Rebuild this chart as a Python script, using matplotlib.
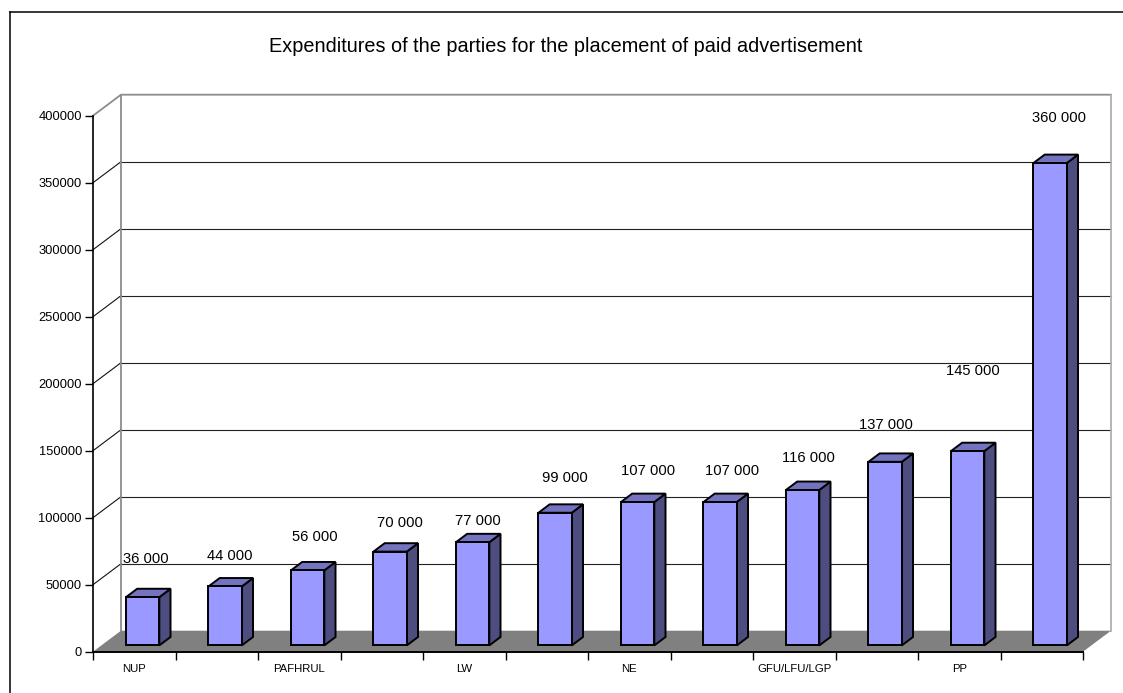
import numpy as np
import matplotlib
matplotlib.use("Agg")
import matplotlib.pyplot as plt
from matplotlib.patches import Polygon
from matplotlib.lines import Line2D

plt.rcParams['font.family'] = ['Liberation Sans', 'DejaVu Sans']

# ---- data -------------------------------------------------------------
categories = ["NUP", "", "PAFHRUL", "", "LW", "", "NE", "", "GFU/LFU/LGP", "", "PP", ""]
spending = [36000, 44000, 56000, 70000, 77000, 99000,
            107000, 107000, 116000, 137000, 145000, 360000]
y_ticks = [0, 50000, 100000, 150000, 200000, 250000, 300000, 350000, 400000]
title = "Expenditures of the parties for the placement of paid advertisement"

# value-label nudges in pixels, relative to the top of each bar's front face
label_dx = [3, 5, 7, 10, 5, 10, 10, 12, 6, 1, 5, 9]
label_dy = [38, 30, 33, 29, 21, 35, 31, 31, 32, 37, 80, 45]

# ---- layout -----------------------------------------------------------
W, H = 1123, 693
fig = plt.figure(figsize=(W / 100, H / 100), dpi=100)

ax_l, ax_b, ax_w, ax_h = 93, H - 651.7, 990, 536
ax = fig.add_axes([ax_l / W, ax_b / H, ax_w / W, ax_h / H])
n = len(spending)
ymax = y_ticks[-1]
ax.set_xlim(0, n)
ax.set_ylim(0, ymax)
ax.patch.set_visible(False)

# 3-D depth of the plot box, expressed in data units
depth_px = (28, 21)
dx = depth_px[0] / (ax_w / n)
dy = depth_px[1] / (ax_h / ymax)


def poly(pts, **kw):
    p = Polygon(pts, closed=True, clip_on=False, **kw)
    ax.add_patch(p)
    return p


# back wall gridlines and the side-wall diagonals
for v in y_ticks[1:-1]:
    ax.add_line(Line2D([dx, n + dx], [v + dy, v + dy], color='#222222',
                       lw=0.8, clip_on=False, zorder=1))
    ax.add_line(Line2D([0, dx], [v, v + dy], color='#111111',
                       lw=0.8, clip_on=False, zorder=1))

wall_col = '#8c8c8c'
ax.add_line(Line2D([0, dx, n + dx], [ymax, ymax + dy, ymax + dy],
                   color=wall_col, lw=1.3, clip_on=False, zorder=1))
ax.add_line(Line2D([dx, dx], [dy, ymax + dy], color=wall_col,
                   lw=1.3, clip_on=False, zorder=1))
ax.add_line(Line2D([n + dx, n + dx], [dy, ymax + dy], color='#b0b0b0',
                   lw=1.3, clip_on=False, zorder=1))

# floor
poly([(0, 0), (n, 0), (n + dx, dy), (dx, dy)], facecolor='#808080',
     edgecolor='none', zorder=2)

# bars: front face, right side and top
bw = 0.404
d0, d1 = 0.3, 0.4
front = '#9999ff'
side = '#4d4d80'
top = '#7373c0'
x0 = np.arange(n) + 0.5 - bw / 2 + d0 * dx
base = d0 * dy
ax.bar(x0, spending, width=bw, bottom=base, align='edge', color=front,
       edgecolor='black', lw=1.4, zorder=5, clip_on=False)
for i, v in enumerate(spending):
    xl, xr = x0[i], x0[i] + bw
    yb, yt = base, base + v
    poly([(xr, yb), (xr, yt), (xr + d1 * dx, yt + d1 * dy),
          (xr + d1 * dx, yb + d1 * dy)], facecolor=side, edgecolor='black',
         lw=1.4, zorder=4, joinstyle='miter')
    poly([(xl, yt), (xr, yt), (xr + d1 * dx, yt + d1 * dy),
          (xl + d1 * dx, yt + d1 * dy)], facecolor=top, edgecolor='black',
         lw=1.4, zorder=4, joinstyle='miter')
    ax.annotate(f"{v:,}".replace(",", " "), xy=(xl + bw / 2, yt),
                xytext=(label_dx[i], label_dy[i]), textcoords='offset pixels',
                ha='center', va='center', fontsize=10.6, zorder=6,
                annotation_clip=False)

# axes
for s in ('top', 'right'):
    ax.spines[s].set_visible(False)
ax.spines['left'].set_linewidth(1.2)
ax.spines['bottom'].set_linewidth(1.4)
ax.spines['left'].set_zorder(7)
ax.spines['bottom'].set_zorder(7)

ax.set_yticks(y_ticks)
ax.set_yticklabels([str(v) for v in y_ticks])
ax.tick_params(axis='y', length=5.8, width=1, pad=2.2, labelsize=9.3)

ax.set_xticks(np.arange(n + 1))
ax.set_xticklabels([])
ax.set_xticks(np.arange(n) + 0.5, minor=True)
ax.set_xticklabels(categories, minor=True)
ax.tick_params(axis='x', which='major', length=5.5, width=1)
ax.tick_params(axis='x', which='minor', length=0, pad=9.2, labelsize=8.2)

# title and chart frame
fig.text(566 / W, 1 - 46 / H, title, ha='center', va='center', fontsize=14.3)
fx, fy = 9.7 / W, 1 - 12.3 / H
fig.add_artist(Line2D([fx, fx], [0, fy], transform=fig.transFigure,
                      color='black', lw=1.1))
fig.add_artist(Line2D([fx, 1], [fy, fy], transform=fig.transFigure,
                      color='black', lw=1.1))

fig.savefig("out.png", dpi=100)
